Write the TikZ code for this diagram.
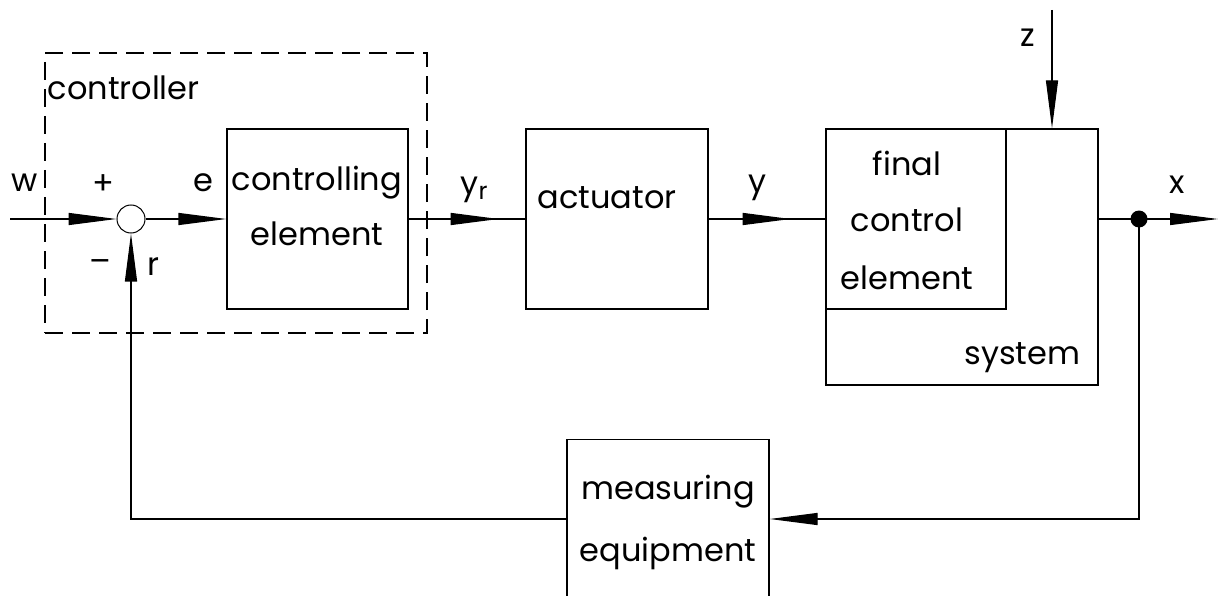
\documentclass[tikz,border=0pt]{standalone}
\usepackage{fontspec}
\setmainfont{Poppins}
\usetikzlibrary{arrows.meta,decorations.markings}
\begin{document}
\begin{tikzpicture}[x=1pt,y=-1pt,line width=1.3pt,
  blk/.style n args={2}{draw,rectangle,inner sep=0pt,minimum width=#1,minimum height=#2},
  txt/.style={inner sep=0pt,font=\fontsize{32}{38}\selectfont},
  tip/.style={-{Triangle[length=48pt,width=12pt]}},
  midarrow/.style={postaction=decorate,decoration={markings,mark=at position #1 with {\arrow{Triangle[length=48pt,width=12pt]}}}},
  ctrlframe/.style={draw,dash pattern=on 18pt off 9pt,line width=1.2pt}]
\useasboundingbox (0,0) rectangle (1220,596);
\clip (0,0) rectangle (1220,596);
% blocks
\node[ctrlframe,rectangle,inner sep=0pt,minimum width=382pt,minimum height=280pt] (frame) at (236,193) {};
\node[draw,circle,inner sep=0pt,minimum size=28pt,line width=1pt] (sum) at (131,219) {};
\node[blk={181pt}{180pt}] (ctrl) at (317.5,219) {};
\node[blk={182pt}{180pt}] (act) at (617,219) {};
\node[blk={272pt}{256pt}] (sys) at (962,257) {};
\node[blk={180pt}{180pt}] (fce) at (916,219) {};
\node[blk={202pt}{240pt},anchor=north] (meas) at (668,439) {};
\node[circle,fill,inner sep=0pt,minimum size=17pt] (dot) at (1139,219) {};
\coordinate (win) at (10,219);
\coordinate (xout) at (1218,219);
\coordinate (zin) at (1052,10);
\coordinate (fb) at (1139,519);
% texts
\node[txt,anchor=west] (tcontroller) at (47,88) {controller};
\node[txt] (tw) at (25,183) {w};
\node[txt] (tplus) at (103,185) {+};
\node[txt] (te) at (203,183) {e};
\node[txt] (tminus) at (100,266) {\textendash};
\node[txt] (tr) at (153,267) {r};
\node[txt] (tctrl1) at (317,183) {controlling};
\node[txt] (tctrl2) at (317,234) {element};
\node[txt] (tyr) at (474,190) {y\raisebox{-5pt}{\fontsize{24}{24}\selectfont r}};
\node[txt] (tact) at (607,198) {actuator};
\node[txt] (ty) at (757,188) {y};
\node[txt] (tf1) at (907,163) {final};
\node[txt] (tf2) at (907,220) {control};
\node[txt] (tf3) at (907,278) {element};
\node[txt,anchor=east] (tsys) at (1081,358) {system};
\node[txt] (tz) at (1028,38) {z};
\node[txt] (tx) at (1177,185) {x};
\node[txt] (tm1) at (668,492) {measuring};
\node[txt] (tm2) at (668,553) {equipment};
% connectors
\draw[tip] (win) -- (sum.west);
\draw[tip] (sum.east) -- (ctrl.west);
\draw[midarrow=90pt] (ctrl.east) -- (act.west);
\draw[midarrow=82pt] (act.east) -- (fce.west);
\draw[tip] (dot -| sys.east) -- (xout);
\draw[tip] (zin) -- (zin |- sys.north);
\draw[tip] (dot.center) -- (fb) -- (fb -| meas.east);
\draw[tip] (fb -| meas.west) -- (fb -| sum) -- (sum.south);
\end{tikzpicture}
\end{document}
